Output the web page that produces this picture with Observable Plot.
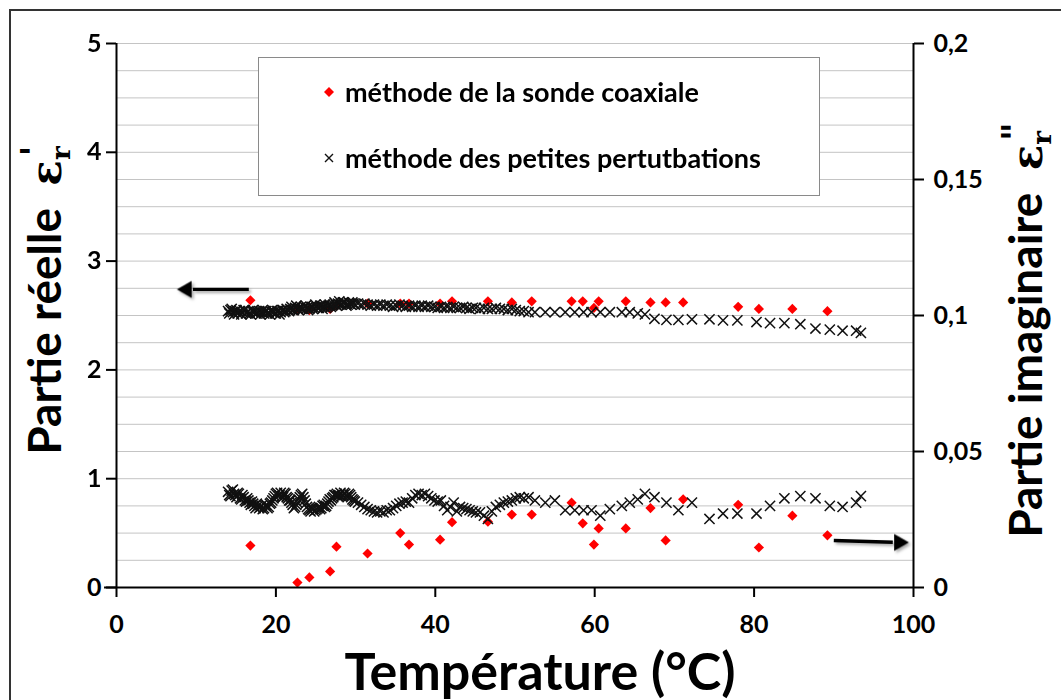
<!DOCTYPE html>
<html><head><meta charset="utf-8">
<script src="https://cdn.jsdelivr.net/npm/d3@7"></script>
<script src="https://cdn.jsdelivr.net/npm/@observablehq/plot@0.6"></script>
<style>
body{margin:0;background:#fff;}
#wrap{position:relative;width:1061px;height:700px;overflow:hidden;font-family:Lato,"Open Sans",sans-serif;}
#frame{position:absolute;left:9px;top:9px;width:1100px;height:800px;border:2px solid #333;box-sizing:border-box;}
#chart{position:absolute;left:0;top:0;}
#legend{position:absolute;left:258px;top:57px;width:562px;height:139px;border:1px solid #8a8a8a;background:#fff;box-sizing:border-box;}
.item{position:absolute;left:62px;font-weight:bold;font-size:27px;color:#000;white-space:nowrap;display:flex;align-items:center;}
.item svg{margin-right:8px;}
</style></head><body>
<div id="wrap"><div id="frame"></div><div id="chart"></div>
<div id="legend">
  <div class="item" style="top:17px"><svg width="16" height="16" viewBox="-8 -8 16 16"><path d="M0,-5L5,0L0,5L-5,0Z" fill="#ff0000"/></svg><span id="lg1"></span></div>
  <div class="item" style="top:83px"><svg width="16" height="16" viewBox="-8 -8 16 16"><path d="M-4,-4L4,4M-4,4L4,-4" stroke="#111" stroke-width="1.4"/></svg><span id="lg2"></span></div>
</div>
</div>
<script>
// ---------- data ----------
const seriesNames = ["méthode de la sonde coaxiale", "méthode des petites pertutbations"];
const xTicks = [0, 20, 40, 60, 80, 100];
const leftTicks = [0, 1, 2, 3, 4, 5];
const rightTicks = [0, 0.05, 0.1, 0.15, 0.2];
const rightTickLabels = ["0", "0,05", "0,1", "0,15", "0,2"];

// coaxial probe (red diamonds)
const coaxT = [16.8, 22.7, 24.2, 26.8, 27.6, 31.5, 35.6, 36.7, 40.6, 42.1, 46.6, 49.6, 52.1, 57.1, 58.5, 59.9, 60.5, 63.9, 67.0, 68.9, 71.1, 78.0, 80.6, 84.8, 89.2];
const coaxReal = [2.64, 2.55, 2.55, 2.56, 2.59, 2.61, 2.61, 2.61, 2.61, 2.63, 2.63, 2.62, 2.63, 2.63, 2.63, 2.57, 2.63, 2.63, 2.62, 2.62, 2.62, 2.58, 2.56, 2.56, 2.54];
const coaxImag = [0.0154, 0.0018, 0.0037, 0.0059, 0.0150, 0.0125, 0.0200, 0.0158, 0.0176, 0.0240, 0.0242, 0.0268, 0.0268, 0.0312, 0.0236, 0.0158, 0.0217, 0.0217, 0.0292, 0.0173, 0.0324, 0.0304, 0.0147, 0.0264, 0.0192];

// small perturbation method (crosses)
const crossT = [
 14.0,14.3,14.6,14.9,15.2,15.5,15.8,16.1,16.4,16.7,17.0,17.3,17.6,17.9,18.2,18.5,18.8,19.1,19.4,19.7,
 20.0,20.3,20.6,20.9,21.2,21.5,21.8,22.1,22.4,22.7,23.0,23.3,23.6,23.9,24.2,24.5,24.8,25.1,25.4,25.7,
 26.0,26.3,26.6,26.9,27.2,27.5,27.8,28.1,28.4,28.7,29.0,29.3,29.6,29.9,
 14.15,14.45,14.75,15.05,15.35,15.65,15.95,16.25,16.55,16.85,17.15,17.45,17.75,18.05,18.35,18.65,18.95,19.25,19.55,19.85,
 20.15,20.45,20.75,21.05,21.35,21.65,21.95,22.25,22.55,22.85,23.15,23.45,23.75,24.05,24.35,24.65,24.95,25.25,25.55,25.85,
 26.15,26.45,26.75,27.05,27.35,27.65,27.95,28.25,28.55,28.85,29.15,29.45,29.75,
 30.3,30.7,31.1,31.5,31.9,32.3,32.7,33.1,33.5,33.9,34.3,34.7,35.1,35.5,35.9,36.3,36.7,37.1,37.5,37.9,
 38.3,38.7,39.1,39.5,39.9,40.3,40.7,41.1,41.5,41.9,42.3,42.7,43.1,43.5,43.9,44.3,44.7,
 45.1,45.6,46.1,46.6,47.1,47.6,48.1,48.6,49.1,49.6,50.1,50.6,51.1,
 51.7,52.5,53.8,55.0,56.3,57.5,58.6,59.6,60.7,61.9,63.4,64.4,65.4,66.3,67.5,69.0,70.5,72.2,74.4,76.1,
 77.9,80.3,82.0,83.8,85.8,87.7,89.5,91.1,92.8,93.4];
const crossReal = [
 2.54,2.55,2.53,2.54,2.52,2.54,2.53,2.55,2.53,2.52,2.54,2.53,2.52,2.54,2.53,2.52,2.54,2.53,2.54,2.53,
 2.52,2.54,2.53,2.55,2.54,2.55,2.56,2.55,2.57,2.56,2.57,2.56,2.58,2.57,2.56,2.58,2.57,2.58,2.57,2.59,
 2.58,2.57,2.59,2.58,2.60,2.60,2.61,2.60,2.62,2.61,2.60,2.61,2.62,2.60,
 2.52,2.56,2.51,2.55,2.53,2.51,2.55,2.52,2.54,2.51,2.55,2.52,2.53,2.51,2.55,2.54,2.52,2.51,2.55,2.52,
 2.54,2.51,2.55,2.53,2.56,2.54,2.58,2.55,2.59,2.55,2.58,2.56,2.59,2.55,2.58,2.56,2.60,2.57,2.59,2.56,
 2.60,2.58,2.60,2.59,2.62,2.59,2.63,2.60,2.62,2.59,2.62,2.60,2.61,
 2.61,2.60,2.61,2.60,2.59,2.60,2.59,2.60,2.59,2.60,2.59,2.58,2.59,2.60,2.59,2.58,2.59,2.58,2.59,2.58,
 2.59,2.58,2.59,2.58,2.58,2.57,2.58,2.57,2.58,2.57,2.58,2.57,2.57,2.58,2.57,2.56,2.57,
 2.57,2.56,2.57,2.56,2.56,2.57,2.56,2.56,2.55,2.56,2.55,2.54,2.54,
 2.53,2.53,2.53,2.53,2.53,2.53,2.53,2.53,2.53,2.53,2.53,2.53,2.52,2.51,2.47,2.46,2.46,2.465,2.465,2.455,
 2.455,2.44,2.43,2.43,2.42,2.38,2.37,2.36,2.36,2.34];
const crossImag = [
 0.0352,0.0336,0.0360,0.0340,0.0348,0.0328,0.0340,0.0320,0.0328,0.0312,0.0316,0.0300,0.0308,0.0292,0.0300,0.0292,0.0304,0.0296,0.0312,0.0328,
 0.0344,0.0336,0.0348,0.0332,0.0344,0.0328,0.0320,0.0304,0.0296,0.0312,0.0332,0.0344,0.0320,0.0296,0.0284,0.0292,0.0280,0.0288,0.0296,0.0292,
 0.0304,0.0300,0.0316,0.0320,0.0332,0.0340,0.0336,0.0348,0.0340,0.0344,0.0332,0.0340,0.0324,0.0316,
 0.0340,0.0356,0.0344,0.0332,0.0344,0.0324,0.0332,0.0316,0.0320,0.0304,0.0308,0.0292,0.0300,0.0296,0.0288,0.0300,0.0292,0.0308,0.0320,0.0336,
 0.0348,0.0340,0.0336,0.0348,0.0332,0.0320,0.0312,0.0292,0.0304,0.0324,0.0340,0.0332,0.0308,0.0288,0.0280,0.0288,0.0284,0.0292,0.0288,0.0300,
 0.0296,0.0308,0.0324,0.0328,0.0340,0.0344,0.0340,0.0336,0.0348,0.0336,0.0344,0.0332,0.0320,
 0.0312,0.0304,0.0296,0.0288,0.0284,0.0280,0.0276,0.0280,0.0276,0.0284,0.0284,0.0292,0.0300,0.0308,0.0312,0.0316,0.0312,0.0328,0.0340,0.0344,
 0.0340,0.0344,0.0336,0.0328,0.0320,0.0316,0.0320,0.0300,0.0284,0.0296,0.0312,0.0280,0.0296,0.0292,0.0288,0.0284,0.0280,
 0.0276,0.0276,0.0264,0.0252,0.0280,0.0296,0.0304,0.0312,0.0316,0.0320,0.0328,0.0332,0.0328,
 0.0332,0.0320,0.0312,0.0320,0.0284,0.0284,0.0284,0.0284,0.0264,0.0288,0.0300,0.0312,0.0324,0.0344,0.0332,0.0312,0.0284,0.0312,0.0252,0.0272,
 0.0272,0.0272,0.0300,0.0328,0.0336,0.0328,0.0300,0.0296,0.0312,0.0336];

// annotation arrows (data units, left axis): shaft start, shaft end, head position, head direction
const arrowData = [
  {x1: 16.6, y1: 2.74, x2: 9.6, y2: 2.74, hx: 8.8, hy: 2.74, rot: -90},
  {x1: 90.0, y1: 0.432, x2: 97.4, y2: 0.416, hx: 98.2, hy: 0.414, rot: 90}
];

// ---------- build ----------
const ratio = 5 / 0.2; // left-axis units per right-axis unit
const coax = coaxT.map((t, i) => ({t, re: coaxReal[i], im: coaxImag[i]}));
const cross = crossT.map((t, i) => ({t, re: crossReal[i], im: crossImag[i]}));
const gridVals = d3.range(0.25, 5.001, 0.25);

document.getElementById("lg1").textContent = seriesNames[0];
document.getElementById("lg2").textContent = seriesNames[1];

const font = "Lato, 'Open Sans', sans-serif";
const chart = Plot.plot({
  width: 1061, height: 700,
  marginLeft: 116, marginRight: 148, marginTop: 43, marginBottom: 113,
  x: {domain: [0, 100]},
  y: {domain: [0, 5]},
  style: {background: "transparent", fontFamily: font, color: "#000"},
  marks: [
    Plot.ruleY(gridVals, {stroke: "#c4c4c4", strokeWidth: 1}),
    Plot.dot(coax, {x: "t", y: "re", symbol: "diamond2", r: 4.6, fill: "#ff0000", stroke: null}),
    Plot.dot(coax, {x: "t", y: d => d.im * ratio, symbol: "diamond2", r: 4.6, fill: "#ff0000", stroke: null}),
    Plot.dot(cross, {x: "t", y: "re", symbol: "times", r: 4.7, stroke: "#111", strokeWidth: 1.5}),
    Plot.dot(cross, {x: "t", y: d => d.im * ratio, symbol: "times", r: 4.7, stroke: "#111", strokeWidth: 1.5}),
    Plot.link(arrowData, {x1: "x1", y1: "y1", x2: "x2", y2: "y2", stroke: "#000", strokeWidth: 3.4}),
    Plot.dot(arrowData, {x: "hx", y: "hy", rotate: "rot", symbol: "triangle", r: 6.3, fill: "#000", stroke: null}),
    Plot.ruleX([0, 100], {stroke: "#000", strokeWidth: 2}),
    Plot.ruleY([0], {x1: -1.5, x2: 100, stroke: "#000", strokeWidth: 2}),
    Plot.axisY({anchor: "left", ticks: leftTicks, tickFormat: d => String(d), tickSize: 10, tickPadding: 5, strokeWidth: 2,
      fontSize: 25, fontWeight: "bold", label: null}),
    Plot.axisY({anchor: "right", ticks: rightTicks.map(v => v * ratio), tickFormat: (d, i) => rightTickLabels[i],
      tickSize: 10, tickPadding: 10, strokeWidth: 2, fontSize: 25, fontWeight: "bold", label: null}),
    Plot.axisX({ticks: xTicks, tickSize: 10, tickPadding: 18, strokeWidth: 2, fontSize: 25, fontWeight: "bold", label: null})
  ]
});
document.getElementById("chart").appendChild(chart);

// soft shadow on the annotation arrows
d3.select(chart).selectAll('g[aria-label="link"], g[aria-label="dot"]').filter(function() {
  return this.querySelector("path[transform*='rotate']") || this.getAttribute("aria-label") === "link";
}).style("filter", "drop-shadow(2px 2px 1.5px rgba(0,0,0,0.35))");

// axis titles
const svg = d3.select(chart);
const g = svg.append("g").attr("font-family", font).attr("font-weight", "bold").attr("fill", "#000");
g.append("text").attr("x", 540).attr("y", 690).attr("text-anchor", "middle").attr("font-size", 52).text("Température (°C)");

function epsTitle(x, y, label, primes) {
  const t = g.append("text").attr("transform", `translate(${x},${y}) rotate(-90)`).attr("text-anchor", "middle").attr("font-size", 46);
  t.append("tspan").text(label + "\u00a0\u00a0");
  t.append("tspan").attr("font-family", "'DejaVu Serif', serif").attr("font-size", 42).text("ε");
  t.append("tspan").attr("font-family", "'DejaVu Serif', serif").attr("font-size", 26).attr("dy", 9).text("r");
  t.append("tspan").attr("font-family", "'DejaVu Serif', serif").attr("font-size", 36).attr("dy", -24).attr("dx", -10).text(primes);
}
epsTitle(61, 300, "Partie réelle", "'");
epsTitle(1042, 330, "Partie imaginaire", "\"");
</script>
</body></html>
